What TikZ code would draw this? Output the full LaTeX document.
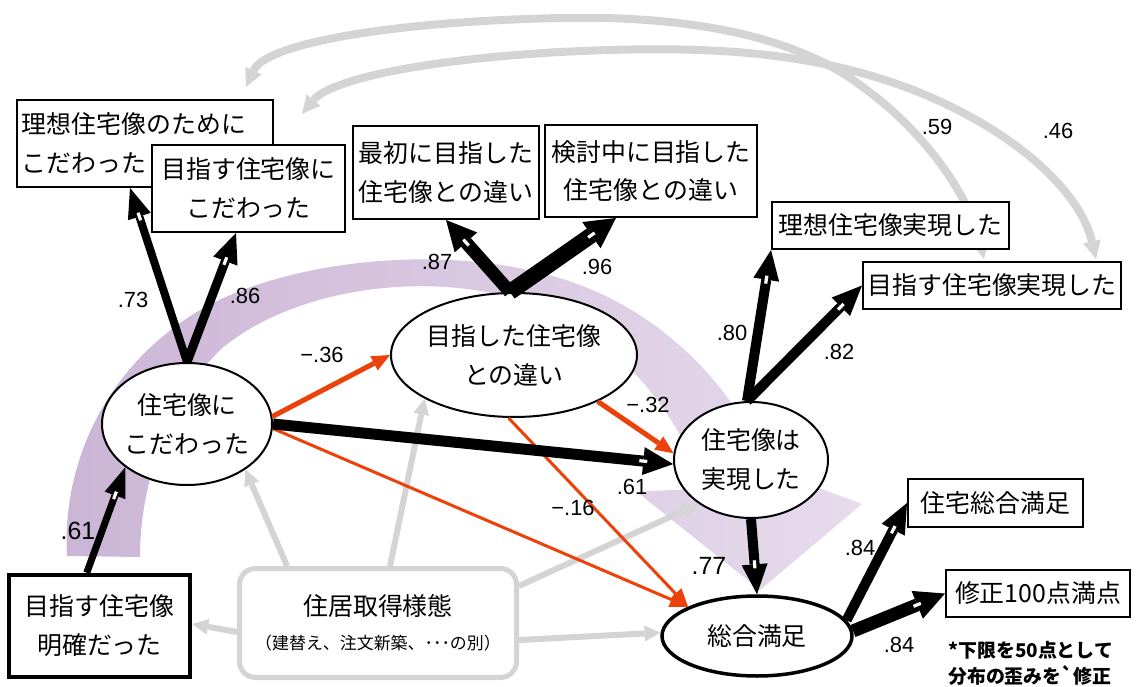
\documentclass[tikz,border=0pt]{standalone}
\usepackage{fontspec}
\setmainfont{Liberation Sans}
\newfontfamily\jpf{Noto Sans CJK JP}
\newfontfamily\jpn{Noto Sans CJK JP}
\usetikzlibrary{arrows.meta,shapes.geometric,decorations.markings}
\pgfdeclarelayer{bgband}
\pgfdeclarelayer{arcs}
\pgfsetlayers{bgband,arcs,main}
\definecolor{redor}{RGB}{236,66,10}
\definecolor{lgray}{RGB}{212,212,212}
\definecolor{pdark}{RGB}{203,181,214}
\definecolor{plight}{RGB}{231,219,236}
\tikzset{
  jp/.style={font=\jpf\fontsize{25}{39}\selectfont},
  bx/.style={jp, draw=black, line width=2bp, fill=white, rectangle, inner sep=0pt, align=center},
  ell/.style={jp, draw=black, line width=2bp, fill=white, ellipse, inner xsep=-12bp, inner ysep=0pt, align=center},
  lab/.style={font=\fontsize{22}{22}\selectfont, inner sep=0pt},
  biglab/.style={font=\fontsize{25}{25}\selectfont, inner sep=0pt},
  wm/.style={postaction={decorate,decoration={markings,mark=at position -30bp with {\fill[white] (-4bp,-1.6bp) rectangle (4bp,1.6bp);}}}},
  blk/.style n args={2}{draw=black, line width=#1, -{Triangle[length=30bp,width=#2,line width=0pt]}, wm},
  redA/.style={draw=redor, line width=#1, -{Triangle[length=18bp,width=16bp,line width=0pt]}},
  grA/.style={draw=lgray, line width=6bp, -{Triangle[length=16bp,width=16bp,line width=0pt]}},
  arcA/.style={draw=lgray, line width=8bp, {Triangle[length=18bp,width=18bp,line width=0pt]}-{Triangle[length=18bp,width=18bp,line width=0pt]}},
}
\begin{document}
\begin{tikzpicture}[x=1bp,y=-1bp]
\useasboundingbox (0,0) rectangle (1147,687);

% boxes
\node[bx, align=left, text width=246bp, inner xsep=5bp, minimum height=87bp] (bA) at (145,143.5) {理想住宅像のために\\こだわった};
\node[bx, minimum width=193bp, minimum height=87bp] (bB) at (248.5,188.5) {目指す住宅像に\\こだわった};
\node[bx, minimum width=186bp, minimum height=93bp] (bC) at (446,172.5) {最初に目指した\\住宅像との違い};
\node[bx, minimum width=212bp, minimum height=92bp] (bD) at (651,171) {検討中に目指した\\住宅像との違い};
\node[bx, minimum width=237bp, minimum height=47bp] (bE) at (890.5,225.5) {理想住宅像実現した};
\node[bx, minimum width=258bp, minimum height=47bp] (bF) at (992,285.5) {目指す住宅像実現した};
\node[bx, minimum width=175bp, minimum height=48bp] (bG) at (995.5,503) {住宅総合満足};
\node[bx, minimum width=184bp, minimum height=47bp] (bH) at (1038,593.5) {修正100点満点};
\node[bx, line width=4.5bp, minimum width=181bp, minimum height=102bp] (bI) at (99.5,626) {目指す住宅像\\明確だった};
\node[draw=lgray, line width=5bp, rounded corners=16bp, fill=white, minimum width=277bp, minimum height=109bp, inner sep=0pt, align=center] (bJ) at (378,623)
  {{\jpf\fontsize{25}{30}\selectfont 住居取得様態}\\[17bp]{\jpn\fontsize{17}{20}\selectfont （建替え、注文新築、･･･の別）}};

% ellipses
\node[ell, minimum width=170bp, minimum height=122bp] (e1) at (187,424) {住宅像に\\こだわった};
\node[ell, minimum width=246bp, minimum height=124bp] (e2) at (514,355) {目指した住宅像\\との違い};
\node[ell, minimum width=154bp, minimum height=116bp] (e3) at (751,460) {住宅像は\\実現した};
\node[ell, line width=3.5bp, minimum width=190bp, minimum height=80bp] (e4) at (757,636) {総合満足};

% purple band
\begin{pgfonlayer}{bgband}
\shade[left color=pdark, right color=plight]
  (67,556) .. controls (62,470) and (100,370) .. (200,310)
  .. controls (290,258) and (460,240) .. (580,285)
  .. controls (660,315) and (730,380) .. (770,470)
  -- (862,504) -- (760,590) -- (637,492) -- (705,488)
  .. controls (680,420) and (620,330) .. (520,300)
  .. controls (420,270) and (290,290) .. (220,350)
  .. controls (170,400) and (140,480) .. (140,557) -- cycle;
\end{pgfonlayer}

% gray correlation arcs
\begin{pgfonlayer}{arcs}
\draw[arcA] ([shift={(-28bp,12bp)}]bA.north east) .. controls (265,45) and (380,22) .. (560,18)
  .. controls (700,15) and (800,40) .. (860,85)
  .. controls (930,135) and (970,200) .. ([shift={(122bp,2bp)}]bF.north west);
\draw[arcA] ([shift={(151bp,30bp)}]bB.north west) .. controls (330,80) and (420,60) .. (560,52)
  .. controls (700,45) and (800,50) .. (900,85)
  .. controls (1010,125) and (1080,190) .. ([shift={(234bp,2bp)}]bF.north west);
\end{pgfonlayer}

% gray arrows from acquisition type
\draw[grA] ([xshift=50bp]bJ.north west) -- (e1.-38);
\draw[grA] ([xshift=153bp]bJ.north west) -- (e2.206);
\draw[grA] ([yshift=-20bp]bJ.north east) -- (e3.220);
\draw[grA] ([yshift=-17bp]bJ.east) -- (e4.178);
\draw[grA] ([yshift=-9bp]bJ.west) -- ([yshift=2bp]bI.east);

% red paths
\draw[redA=5bp] (e1.5) -- (e2.west);
\draw[redA=5bp] (e2.-29) -- (e3.175);
\draw[redA=3bp] (e1.-3) -- (e4.157);
\draw[redA=3bp] (e2.265) -- (e4.157);

% black paths
\draw[blk={8bp}{24bp}] (e1.north) -- ([xshift=114bp]bA.south west);
\draw[blk={9bp}{26bp}] (e1.north) -- ([xshift=85bp]bB.south west);
\draw[blk={13bp}{30bp}] ([xshift=-4bp]e2.north) -- ([xshift=94bp]bC.south west);
\draw[blk={16bp}{32bp}] ([xshift=-4bp]e2.north) -- ([xshift=72bp]bD.south west);
\draw[blk={10bp}{26bp}] ([xshift=-4bp]e3.north) -- (bE.south west);
\draw[blk={10bp}{26bp}] ([xshift=-4bp]e3.north) -- (bF.west);
\draw[blk={11bp}{28bp}] (e1.east) -- (e3.183);
\draw[blk={10bp}{26bp}] (e3.south) -- (e4.north);
\draw[blk={10bp}{26bp}] (e4.10) -- (bG.west);
\draw[blk={13bp}{30bp}] (e4.3) -- (bH.west);
\draw[blk={7bp}{22bp}] ([xshift=80bp]bI.north west) -- (e1.215);

% labels
\node[lab] (l73) at (133,300) {.73};
\node[lab] (l86) at (245,296) {.86};
\node[lab] (l36) at (322,355) {−.36};
\node[lab] (l87) at (437,262) {.87};
\node[lab] (l96) at (597,267) {.96};
\node[lab] (l80) at (732,333) {.80};
\node[lab] (l82) at (839,352) {.82};
\node[lab] (l32) at (648,405) {−.32};
\node[lab] (l61b) at (632,487) {.61};
\node[lab] (l16) at (573,508) {−.16};
\node[biglab] (l77) at (709,566) {.77};
\node[lab] (l84a) at (860,548) {.84};
\node[lab] (l84b) at (899,645) {.84};
\node[biglab] (l61a) at (78,531) {.61};
\node[lab] (l59) at (937,127) {.59};
\node[lab] (l46) at (1058,131) {.46};

% footnote
\node[font=\jpn\bfseries\fontsize{19}{26}\selectfont, align=left, anchor=north west, inner sep=0pt] (note) at (948,641)
  {*下限を50点として\\分布の歪みを\textasciigrave 修正};
\end{tikzpicture}
\end{document}
